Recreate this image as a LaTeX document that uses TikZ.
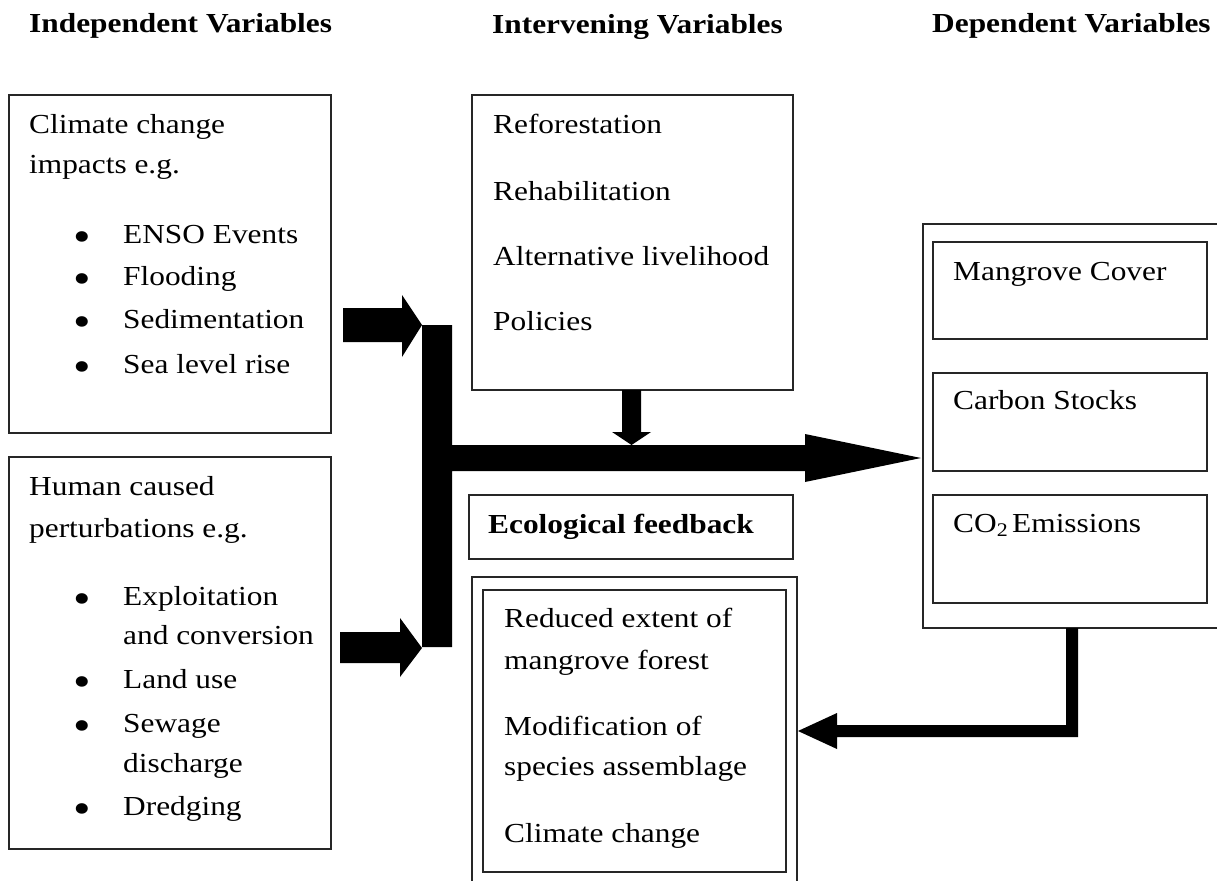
\documentclass[tikz,border=0pt]{standalone}
\usepackage{fontspec}
\setmainfont{Liberation Serif}[FakeStretch=1.14]
\newcommand\bodysize{\fontsize{27.5}{33}\selectfont}
\newcommand\bulsize{\fontsize{44}{44}\selectfont}
\begin{document}
\begin{tikzpicture}[x=1pt,y=-1pt,
  box/.style={draw=black!85,line width=1.2pt,anchor=north west,inner sep=0pt,outer sep=0pt},
  txt/.style={anchor=base west,inner sep=0pt,font=\bodysize},
  hd/.style={anchor=base west,inner sep=0pt,font=\bodysize\bfseries},
  blt/.style={anchor=base,inner sep=0pt,font=\bulsize,text height=22pt,text depth=0pt},
  arr/.style={fill=black}]
\useasboundingbox (0,0) rectangle (1217,880);
\clip (0,0) rectangle (1217,880);

% headings
\node[hd] (h1) at (29,33) {Independent Variables};
\node[hd] (h2) at (492,34) {Intervening Variables};
\node[hd] (h3) at (932,33) {Dependent Variables};

% boxes
\node[box,minimum width=322pt,minimum height=338pt] (clim) at (9,95) {};
\node[box,minimum width=322pt,minimum height=392pt] (human) at (9,457) {};
\node[box,minimum width=321pt,minimum height=295pt] (interv) at (472,95) {};
\node[box,minimum width=324pt,minimum height=64pt] (eco) at (469,495) {};
\node[box,minimum width=325pt,minimum height=310pt] (fbout) at (472,577) {};
\node[box,minimum width=303pt,minimum height=282pt] (fbin) at (483,590) {};
\node[box,minimum width=300pt,minimum height=404pt] (dep) at (923,224) {};
\node[box,minimum width=274pt,minimum height=97pt] (mc) at (933,242) {};
\node[box,minimum width=274pt,minimum height=98pt] (cs) at (933,373) {};
\node[box,minimum width=274pt,minimum height=108pt] (co) at (933,495) {};

% climate box text
\node[txt] (c1) at (29,133) {Climate change};
\node[txt] (c2) at (29,173) {impacts e.g.};
\node[blt] (cb1) at (82,251) {•}; \node[txt] (ct1) at (123,243) {ENSO Events};
\node[blt] (cb2) at (82,293) {•}; \node[txt] (ct2) at (123,285) {Flooding};
\node[blt] (cb3) at (82,336) {•}; \node[txt] (ct3) at (123,328) {Sedimentation};
\node[blt] (cb4) at (82,381) {•}; \node[txt] (ct4) at (123,373) {Sea level rise};

% human box text
\node[txt] (u1) at (29,495) {Human caused};
\node[txt] (u2) at (29,537) {perturbations e.g.};
\node[blt] (ub1) at (82,613) {•}; \node[txt] (ut1) at (123,605) {Exploitation};
\node[txt] (ut1b) at (123,644) {and conversion};
\node[blt] (ub2) at (82,696) {•}; \node[txt] (ut2) at (123,688) {Land use};
\node[blt] (ub3) at (82,740) {•}; \node[txt] (ut3) at (123,732) {Sewage};
\node[txt] (ut3b) at (123,772) {discharge};
\node[blt] (ub4) at (82,823) {•}; \node[txt] (ut4) at (123,815) {Dredging};

% intervening text
\node[txt] (i1) at (493,133) {Reforestation};
\node[txt] (i2) at (493,200) {Rehabilitation};
\node[txt] (i3) at (493,265) {Alternative livelihood};
\node[txt] (i4) at (493,330) {Policies};

% ecological feedback
\node[hd] (e1) at (488,533) {Ecological feedback};
\node[txt] (f1) at (504,627) {Reduced extent of};
\node[txt] (f2) at (504,669) {mangrove forest};
\node[txt] (f3) at (504,735) {Modification of};
\node[txt] (f4) at (504,775) {species assemblage};
\node[txt] (f5) at (504,842) {Climate change};

% dependent texts
\node[txt] (d1) at (953,280) {Mangrove Cover};
\node[txt] (d2) at (953,409) {Carbon Stocks};
\node[txt] (d3) at (953,532) {CO\textsubscript{2}\kern4pt Emissions};

% arrows
\fill[arr] (343,308) -- (402,308) -- (402,295) -- (422,325) -- (402,357) -- (402,342) -- (343,342) -- cycle;
\fill[arr] (340,632) -- (400,632) -- (400,618) -- (422,648) -- (400,677) -- (400,663) -- (340,663) -- cycle;
\fill[arr] (422,325) -- (452,325) -- (452,445) -- (805,445) -- (805,434) -- (921,458) -- (805,482) -- (805,471) -- (452,471) -- (452,647) -- (422,647) -- cycle;
\fill[arr] (622,390) -- (641,390) -- (641,432) -- (651,432) -- (631.5,445) -- (612,432) -- (622,432) -- cycle;
\fill[arr] (1066,628) -- (1078,628) -- (1078,737) -- (837,737) -- (837,749) -- (798,731) -- (837,713) -- (837,725) -- (1066,725) -- cycle;
\end{tikzpicture}
\end{document}
